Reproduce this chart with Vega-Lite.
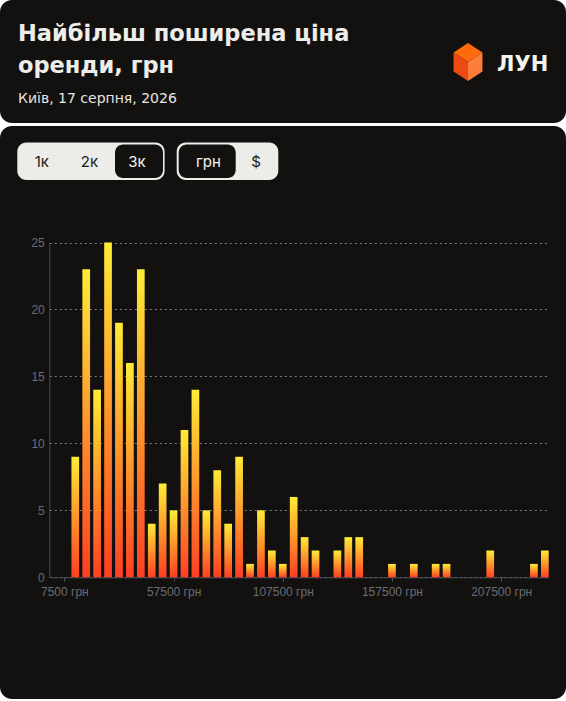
{
  "$schema": "https://vega.github.io/schema/vega-lite/v6.json",
  "background": "#ffffff",
  "padding": 0,
  "spacing": 3,
  "config": {"view": {"stroke": null}},
  "vconcat": [
    {
      "width": 566,
      "height": 123,
      "view": {"fill": "#121110", "cornerRadius": 12, "stroke": null},
      "title": {
        "text": ["Найбільш поширена ціна", "оренди, грн"],
        "subtitle": "Київ, 17 серпня, 2026",
        "anchor": "start",
        "frame": "group",
        "orient": "top",
        "offset": -105.5,
        "dx": 18,
        "font": "DejaVu Sans",
        "fontSize": 22.5,
        "fontWeight": "bold",
        "color": "#EDEDEA",
        "lineHeight": 32.5,
        "subtitleFont": "DejaVu Sans",
        "subtitleFontSize": 14,
        "subtitleColor": "#E6E6E2",
        "subtitlePadding": 14
      },
      "layer": [
        {
          "data": {"values": [
            {"brand": "ЛУН", "face": "верх"},
            {"brand": "ЛУН", "face": "ліва"},
            {"brand": "ЛУН", "face": "права"}
          ]},
          "mark": {"type": "point", "filled": true, "size": 1444, "opacity": 1, "strokeWidth": 0},
          "encoding": {
            "x": {"field": "brand", "type": "nominal", "axis": null, "scale": {"type": "point", "range": [468, 468]}},
            "y": {"field": "brand", "type": "nominal", "axis": null, "scale": {"type": "point", "range": [62, 62]}},
            "shape": {"field": "face", "type": "nominal", "legend": null, "scale": {"domain": ["верх", "ліва", "права"], "range": ["M0,-1L0.76,-0.5L0,0L-0.76,-0.5Z", "M-0.76,-0.5L0,0L0,1L-0.76,0.5Z", "M0,0L0.76,-0.5L0.76,0.5L0,1Z"]}},
            "color": {"field": "face", "type": "nominal", "legend": null, "scale": {"domain": ["верх", "ліва", "права"], "range": ["#FF6A0D", "#EC4A12", "#FF7D3A"]}}
          }
        },
        {
          "data": {"values": [{"brand": "ЛУН"}]},
          "mark": {"type": "text", "align": "left", "baseline": "alphabetic", "dx": 29, "dy": 9, "font": "DejaVu Sans", "fontSize": 21, "fontWeight": "bold", "fill": "#F2F2EE"},
          "encoding": {
            "x": {"field": "brand", "type": "nominal", "axis": null},
            "y": {"field": "brand", "type": "nominal", "axis": null},
            "text": {"field": "brand"}
          }
        }
      ]
    },
    {
      "width": 566,
      "height": 573,
      "view": {"fill": "#121110", "cornerRadius": 12, "stroke": null},
      "resolve": {"scale": {"x": "independent", "y": "independent", "color": "independent"}},
      "layer": [
        {
          "data": {"values": [{"group": "крок"}]},
          "mark": {"type": "rect", "cornerRadius": 9, "fill": "#ECECE8"},
          "encoding": {
            "x": {"field": "group", "type": "nominal", "axis": null, "scale": {"type": "band", "range": [17.3, 164.6], "paddingInner": 0, "paddingOuter": 0}},
            "y": {"field": "group", "type": "nominal", "axis": null, "scale": {"type": "band", "range": [16.5, 54], "paddingInner": 0, "paddingOuter": 0}}
          }
        },
        {
          "data": {"values": [{"group": "валюта"}]},
          "mark": {"type": "rect", "cornerRadius": 9, "fill": "#ECECE8"},
          "encoding": {
            "x": {"field": "group", "type": "nominal", "axis": null, "scale": {"type": "band", "range": [176.7, 278.3], "paddingInner": 0, "paddingOuter": 0}},
            "y": {"field": "group", "type": "nominal", "axis": null, "scale": {"type": "band", "range": [16.5, 54], "paddingInner": 0, "paddingOuter": 0}}
          }
        },
        {
          "data": {"values": [{"button": "3к"}]},
          "mark": {"type": "rect", "cornerRadius": 8, "fill": "#121110"},
          "encoding": {
            "x": {"field": "button", "type": "nominal", "axis": null, "scale": {"type": "band", "range": [115, 163], "paddingInner": 0, "paddingOuter": 0}},
            "y": {"field": "button", "type": "nominal", "axis": null, "scale": {"type": "band", "range": [18.5, 52], "paddingInner": 0, "paddingOuter": 0}}
          }
        },
        {
          "data": {"values": [{"button": "грн"}]},
          "mark": {"type": "rect", "cornerRadius": 8, "fill": "#121110"},
          "encoding": {
            "x": {"field": "button", "type": "nominal", "axis": null, "scale": {"type": "band", "range": [178.7, 235.7], "paddingInner": 0, "paddingOuter": 0}},
            "y": {"field": "button", "type": "nominal", "axis": null, "scale": {"type": "band", "range": [18.5, 52], "paddingInner": 0, "paddingOuter": 0}}
          }
        },
        {
          "data": {"values": [
            {"label": "1к", "state": "звичайна"},
            {"label": "2к", "state": "звичайна"},
            {"label": "3к", "state": "вибрана"},
            {"label": "грн", "state": "вибрана"},
            {"label": "$", "state": "звичайна"}
          ]},
          "mark": {"type": "text", "align": "center", "baseline": "alphabetic", "font": "Inter", "fontSize": 15, "fontWeight": 400},
          "encoding": {
            "x": {"field": "label", "type": "nominal", "axis": null, "scale": {"type": "point", "domain": ["1к", " a", "2к", " b", "3к", " c", " d", "грн", " e", "$"], "range": [41.8, 256], "padding": 0}},
            "y": {"datum": "кнопки", "type": "nominal", "axis": null, "scale": {"type": "point", "range": [41.3, 41.3]}},
            "text": {"field": "label"},
            "color": {"field": "state", "type": "nominal", "legend": null, "scale": {"domain": ["вибрана", "звичайна"], "range": ["#F4F4F0", "#1B1B1B"]}}
          }
        },
        {
          "data": {"values": [
            {"price": 12500, "count": 9},
            {"price": 17500, "count": 23},
            {"price": 22500, "count": 14},
            {"price": 27500, "count": 25},
            {"price": 32500, "count": 19},
            {"price": 37500, "count": 16},
            {"price": 42500, "count": 23},
            {"price": 47500, "count": 4},
            {"price": 52500, "count": 7},
            {"price": 57500, "count": 5},
            {"price": 62500, "count": 11},
            {"price": 67500, "count": 14},
            {"price": 72500, "count": 5},
            {"price": 77500, "count": 8},
            {"price": 82500, "count": 4},
            {"price": 87500, "count": 9},
            {"price": 92500, "count": 1},
            {"price": 97500, "count": 5},
            {"price": 102500, "count": 2},
            {"price": 107500, "count": 1},
            {"price": 112500, "count": 6},
            {"price": 117500, "count": 3},
            {"price": 122500, "count": 2},
            {"price": 132500, "count": 2},
            {"price": 137500, "count": 3},
            {"price": 142500, "count": 3},
            {"price": 157500, "count": 1},
            {"price": 167500, "count": 1},
            {"price": 177500, "count": 1},
            {"price": 182500, "count": 1},
            {"price": 202500, "count": 2},
            {"price": 222500, "count": 1},
            {"price": 227500, "count": 2}
          ]},
          "mark": {
            "type": "bar",
            "width": 7.7,
            "fill": {
              "gradient": "linear",
              "x1": 0, "y1": 1, "x2": 0, "y2": 0,
              "stops": [
                {"offset": 0, "color": "#FF3F22"},
                {"offset": 1, "color": "#FFEC35"}
              ]
            }
          },
          "encoding": {
            "x": {
              "field": "price", "type": "quantitative",
              "scale": {"domain": [600, 229400], "range": [49.3, 549], "nice": false, "zero": false, "padding": 0},
              "axis": {
                "values": [7500, 57500, 107500, 157500, 207500],
                "labelExpr": "datum.value + ' грн'",
                "title": null, "offset": -121.7, "grid": false,
                "domainColor": "#4B4C54", "tickColor": "#4B4C54", "tickSize": 4,
                "labelColor": "#6B6C74", "labelFont": "Liberation Sans", "labelFontSize": 12,
                "labelPadding": 5, "labelFlush": false, "labelOverlap": false
              }
            },
            "y": {
              "field": "count", "type": "quantitative",
              "scale": {"domain": [0, 25], "range": [451.3, 116.5], "nice": false, "padding": 0},
              "axis": {
                "values": [0, 5, 10, 15, 20, 25],
                "title": null, "offset": -49.3, "ticks": false,
                "domainColor": "#4B4C54", "labelColor": "#6B6C74", "labelFont": "Liberation Sans",
                "labelFontSize": 12, "labelPadding": 5,
                "grid": true, "gridColor": "#9A9AA4", "gridDash": [2, 3], "gridWidth": 1, "gridOpacity": 0.8
              }
            }
          }
        }
      ]
    }
  ]
}
